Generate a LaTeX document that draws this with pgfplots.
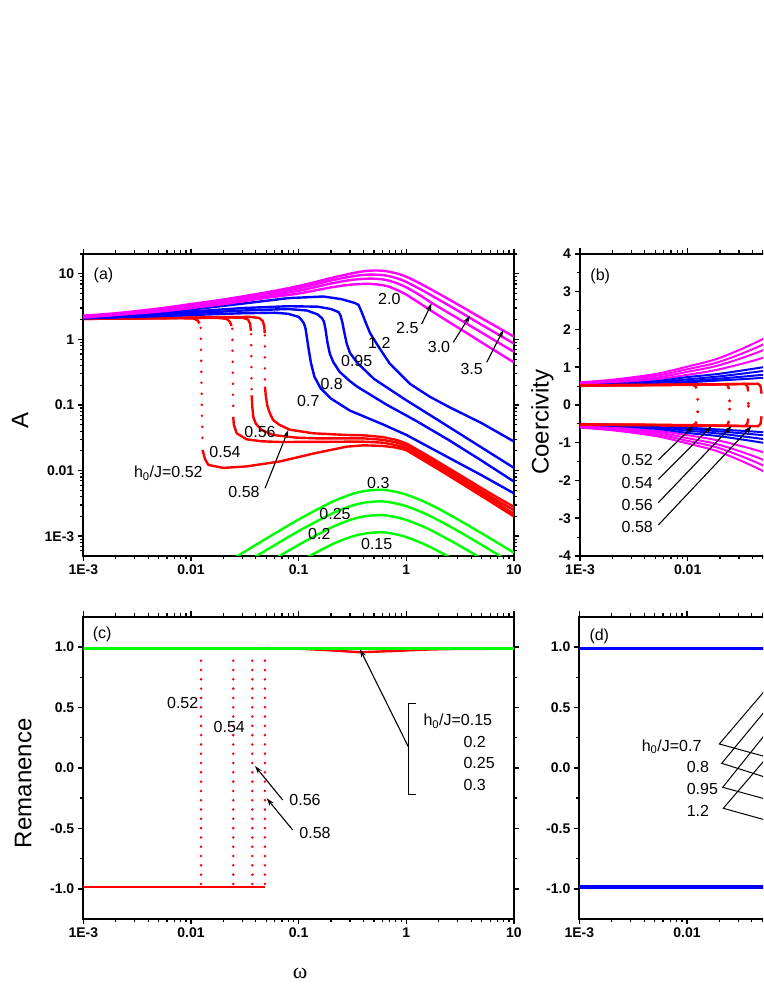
\documentclass[border=0pt]{standalone}
\usepackage{fontspec}
\setmainfont{Liberation Sans}
\newfontfamily\seriffont{Liberation Serif}
\usepackage{pgfplots}
\pgfplotsset{compat=1.18}
\usetikzlibrary{arrows.meta}
\definecolor{mymag}{rgb}{1,0,1}
\definecolor{myblue}{rgb}{0,0,1}
\definecolor{myred}{rgb}{1,0,0}
\definecolor{mygreen}{rgb}{0,1,0}
\newcommand{\ann}{\fontsize{16}{18}\selectfont}
\newcommand{\lab}{\fontsize{24}{26}\selectfont}
\pgfplotsset{
  mybasestyle/.style={
    scale only axis, width=430.7pt, height=302pt,
    xmin=1e-3, xmax=10,
    xtick={0.001,0.01,0.1,1,10}, xticklabels={1E-3,0.01,0.1,1,10},
    minor xtick={0.002,0.003,0.004,0.005,0.006,0.007,0.008,0.009,0.02,0.03,0.04,0.05,0.06,0.07,0.08,0.09,0.2,0.3,0.4,0.5,0.6,0.7,0.8,0.9,2,3,4,5,6,7,8,9},
    axis line style={line width=2pt},
    tick align=outside, major tick length=5.5pt, minor tick length=3.5pt,
    major tick style={line width=1.5pt,black},
    minor tick style={line width=1.2pt,black},
    tick label style={font=\fontsize{14}{16}\selectfont\bfseries},
    anchor=south west,
  },
}
\tikzset{
  mycur/.style={line width=2.4pt, line join=round},
  mydots/.style={myred, line width=2.8pt, line cap=round, dash pattern=on 0pt off #1},
}
\begin{document}
\begin{tikzpicture}
\useasboundingbox (0pt,0pt) rectangle (763pt,987pt);
\clip (0pt,0pt) rectangle (763pt,987pt);
% ---------------- (a)
\begin{axis}[xmode=log, ymode=log, mybasestyle, at={(83.3pt,431pt)}, ymin=5e-4, ymax=20,
  ytick={0.001,0.01,0.1,1,10}, yticklabels={1E-3,0.01,0.1,1,10},
  minor ytick={0.0006,0.0007,0.0008,0.0009,0.002,0.003,0.004,0.005,0.006,0.007,0.008,0.009,0.02,0.03,0.04,0.05,0.06,0.07,0.08,0.09,0.2,0.3,0.4,0.5,0.6,0.7,0.8,0.9,2,3,4,5,6,7,8,9,20}]
% green
\addplot[mygreen, mycur, smooth] coordinates {(0.01,0.000186)(0.02,0.00037)(0.03,0.000554)(0.05,0.00092)(0.1,0.0018)(0.2,0.00328)(0.3,0.00429)(0.4,0.00485)(0.55,0.0051)(0.7,0.00496)(1,0.00431)(1.5,0.0033)(2,0.00261)(3,0.00181)(5,0.00111)(7,0.000797)(10,0.00056)};
\addplot[mygreen, mycur, smooth] coordinates {(0.01,0.000124)(0.02,0.000247)(0.03,0.00037)(0.05,0.000613)(0.1,0.0012)(0.2,0.00218)(0.3,0.00286)(0.4,0.00323)(0.55,0.0034)(0.7,0.0033)(1,0.00287)(1.5,0.0022)(2,0.00174)(3,0.00121)(5,0.00074)(7,0.000531)(10,0.000373)};
\addplot[mygreen, mycur, smooth] coordinates {(0.02,0.000152)(0.03,0.000228)(0.05,0.000379)(0.1,0.000739)(0.2,0.00135)(0.3,0.00177)(0.4,0.002)(0.55,0.0021)(0.7,0.00204)(1,0.00177)(1.5,0.00136)(2,0.00107)(3,0.000745)(5,0.000457)(7,0.000328)(10,0.00023)};
\addplot[mygreen, mycur, smooth] coordinates {(0.05,0.000207)(0.1,0.000405)(0.2,0.000739)(0.3,0.000967)(0.4,0.00109)(0.55,0.00115)(0.7,0.00112)(1,0.000971)(1.5,0.000743)(2,0.000588)(3,0.000408)(5,0.00025)(7,0.00018)(10,0.000126)};
% red h=0.52
\addplot[myred, mycur] coordinates {(0.001,2.05)(0.003,2.08)(0.008,2.1)(0.0105,2.08)(0.0115,1.95)(0.012,1.75)};
\addplot[mydots=11pt] coordinates {(0.0123,1.5)(0.0128,0.022)};
\addplot[myred, mycur] coordinates {(0.0128,0.0207)(0.0135,0.015)(0.0145,0.0122)(0.02,0.011)(0.033,0.0116)(0.067,0.0138)(0.137,0.0182)(0.28,0.0232)(0.4,0.0243)(0.6,0.0238)(0.8,0.0225)(1,0.0205)(1.5,0.0138)(2,0.0104)(3,0.0069)(5,0.0041)(7,0.0029)(10,0.002)};
% red h=0.54
\addplot[myred, mycur] coordinates {(0.001,2.05)(0.003,2.09)(0.01,2.12)(0.018,2.12)(0.0215,2.05)(0.023,1.85)(0.0238,1.6)};
\addplot[mydots=11pt] coordinates {(0.0242,1.45)(0.0247,0.07)};
\addplot[myred, mycur] coordinates {(0.0247,0.066)(0.025,0.05)(0.0266,0.037)(0.0329,0.030)(0.045,0.028)(0.067,0.0273)(0.137,0.0274)(0.28,0.0276)(0.4,0.0276)(0.6,0.0267)(0.8,0.0245)(1,0.022)(1.5,0.015)(2,0.0113)(3,0.0075)(5,0.0045)(7,0.0032)(10,0.0022)};
% red h=0.56
\addplot[myred, mycur] coordinates {(0.001,2.06)(0.003,2.1)(0.01,2.14)(0.02,2.16)(0.03,2.14)(0.034,2.0)(0.0355,1.7)(0.036,1.35)};
\addplot[mydots=11pt] coordinates {(0.0362,1.2)(0.0366,0.15)};
\addplot[myred, mycur] coordinates {(0.0366,0.14)(0.0372,0.09)(0.038,0.065)(0.04,0.052)(0.045,0.042)(0.058,0.0349)(0.095,0.0318)(0.15,0.031)(0.28,0.031)(0.4,0.031)(0.6,0.0295)(0.8,0.027)(1,0.024)(1.5,0.0163)(2,0.0123)(3,0.0082)(5,0.0049)(7,0.0035)(10,0.0025)};
% red h=0.58
\addplot[myred, mycur] coordinates {(0.001,2.07)(0.003,2.1)(0.01,2.15)(0.02,2.18)(0.035,2.2)(0.043,2.12)(0.0465,1.9)(0.048,1.55)(0.0484,1.25)};
\addplot[mydots=11pt] coordinates {(0.0485,1.15)(0.0487,0.2)};
\addplot[myred, mycur] coordinates {(0.0487,0.19)(0.0495,0.14)(0.051,0.1)(0.054,0.075)(0.058,0.059)(0.066,0.05)(0.083,0.042)(0.137,0.037)(0.28,0.0349)(0.4,0.0345)(0.6,0.0325)(0.8,0.0295)(1,0.026)(1.5,0.0178)(2,0.0134)(3,0.009)(5,0.0054)(7,0.0039)(10,0.0028)};
% blue
\addplot[myblue, mycur] coordinates {(0.001,2.1)(0.003,2.2)(0.01,2.35)(0.03,2.5)(0.06,2.55)(0.08,2.45)(0.1,2.2)(0.107,1.95)(0.112,1.75)(0.116,1.45)(0.12,1.0)(0.124,0.7)(0.13,0.44)(0.14,0.27)(0.16,0.18)(0.2,0.125)(0.3,0.082)(0.6,0.051)(1,0.035)(2,0.019)(5,0.0085)(10,0.0045)};
\addplot[myblue, mycur] coordinates {(0.001,2.1)(0.003,2.25)(0.01,2.5)(0.03,2.75)(0.08,2.9)(0.12,2.75)(0.15,2.4)(0.165,2.1)(0.172,1.85)(0.178,1.4)(0.185,0.9)(0.195,0.6)(0.21,0.45)(0.24,0.32)(0.3,0.23)(0.35,0.19)(0.65,0.102)(1.24,0.057)(2.5,0.029)(5,0.0142)(10,0.0068)};
\addplot[myblue, mycur] coordinates {(0.001,2.1)(0.003,2.3)(0.01,2.65)(0.03,3.0)(0.08,3.2)(0.15,3.15)(0.2,2.9)(0.235,2.6)(0.245,2.3)(0.255,1.8)(0.265,1.3)(0.28,0.85)(0.3,0.62)(0.35,0.44)(0.5,0.25)(1.0,0.118)(2.0,0.058)(5,0.0225)(10,0.011)};
\addplot[myblue, mycur] coordinates {(0.001,2.15)(0.003,2.4)(0.01,2.85)(0.03,3.5)(0.08,4.25)(0.17,4.5)(0.25,4.1)(0.33,3.6)(0.36,3.35)(0.385,2.6)(0.42,1.8)(0.46,1.25)(0.55,0.78)(0.7,0.43)(1.08,0.21)(1.66,0.133)(2.5,0.093)(5,0.053)(10,0.0277)};
% magenta
\addplot[mymag, mycur, smooth] coordinates {(0.001,2.15)(0.002,2.35)(0.005,2.65)(0.01,3.0)(0.02,3.45)(0.05,4.3)(0.1,5.0)(0.2,6.2)(0.3,6.8)(0.4,7.0)(0.5,6.95)(0.6,6.7)(0.7,6.3)(0.85,5.5)(1.0,4.8)(1.3,3.65)(1.72,2.7)(2.5,1.83)(3.5,1.3)(5,0.9)(7.9,0.565)(10,0.445)};
\addplot[mymag, mycur, smooth] coordinates {(0.001,2.2)(0.002,2.4)(0.005,2.75)(0.01,3.15)(0.02,3.65)(0.05,4.6)(0.1,5.5)(0.2,7.1)(0.3,8.0)(0.4,8.35)(0.5,8.4)(0.6,8.2)(0.7,7.8)(0.85,7.0)(1.0,6.2)(1.3,4.85)(1.72,3.6)(2.5,2.5)(3.5,1.8)(5,1.27)(7.9,0.81)(10,0.645)};
\addplot[mymag, mycur, smooth] coordinates {(0.001,2.25)(0.002,2.45)(0.005,2.85)(0.01,3.3)(0.02,3.85)(0.05,4.9)(0.1,6.0)(0.2,7.9)(0.3,9.0)(0.4,9.6)(0.5,9.7)(0.6,9.55)(0.7,9.15)(0.85,8.35)(1.0,7.5)(1.3,6.0)(1.72,4.65)(2.5,3.27)(3.5,2.36)(5,1.67)(7.9,1.08)(10,0.86)};
\addplot[mymag, mycur, smooth] coordinates {(0.001,2.3)(0.002,2.5)(0.005,2.95)(0.01,3.45)(0.02,4.05)(0.05,5.2)(0.1,6.5)(0.2,8.6)(0.3,10.0)(0.4,10.9)(0.5,11.2)(0.6,11.1)(0.7,10.7)(0.85,9.9)(1.0,9.0)(1.3,7.3)(1.72,5.7)(2.5,4.05)(3.5,2.95)(5,2.1)(7.9,1.37)(10,1.1)};
\node[anchor=west, font=\ann] at (axis description cs:0.016,0.93) {(a)};
\end{axis}
% ---------------- (b)
\begin{axis}[xmode=log, mybasestyle, xticklabels={1E-3,0.01,{},{},{}}, at={(580pt,431pt)}, ymin=-4, ymax=4,
  ytick={-4,-3,-2,-1,0,1,2,3,4}, yticklabels={-4,-3,-2,-1,0,1,2,3,4}, minor y tick num=1]
\addplot[mymag, line width=2pt, smooth] coordinates {(0.001,0.55)(0.002,0.59)(0.005,0.68)(0.01,0.8)(0.02,0.95)(0.05,1.25)(0.1,1.6)};
\addplot[mymag, line width=2pt, smooth] coordinates {(0.001,0.56)(0.002,0.61)(0.005,0.72)(0.01,0.88)(0.02,1.06)(0.05,1.45)(0.1,1.9)};
\addplot[mymag, line width=2pt, smooth] coordinates {(0.001,0.58)(0.002,0.64)(0.005,0.77)(0.01,0.95)(0.02,1.15)(0.05,1.6)(0.1,2.1)};
\addplot[mymag, line width=2pt, smooth] coordinates {(0.001,0.6)(0.002,0.67)(0.005,0.82)(0.01,1.02)(0.02,1.25)(0.05,1.75)(0.1,2.3)};
\addplot[mymag, line width=2pt, smooth] coordinates {(0.001,-0.55)(0.002,-0.59)(0.005,-0.68)(0.01,-0.8)(0.02,-0.95)(0.05,-1.25)(0.1,-1.6)};
\addplot[mymag, line width=2pt, smooth] coordinates {(0.001,-0.56)(0.002,-0.61)(0.005,-0.72)(0.01,-0.88)(0.02,-1.06)(0.05,-1.45)(0.1,-1.9)};
\addplot[mymag, line width=2pt, smooth] coordinates {(0.001,-0.58)(0.002,-0.64)(0.005,-0.77)(0.01,-0.95)(0.02,-1.15)(0.05,-1.6)(0.1,-2.1)};
\addplot[mymag, line width=2pt, smooth] coordinates {(0.001,-0.6)(0.002,-0.67)(0.005,-0.82)(0.01,-1.02)(0.02,-1.25)(0.05,-1.75)(0.1,-2.3)};
\addplot[myblue, line width=2pt, smooth] coordinates {(0.001,0.5)(0.002,0.52)(0.005,0.55)(0.01,0.6)(0.02,0.65)(0.05,0.72)(0.1,0.8)};
\addplot[myblue, line width=2pt, smooth] coordinates {(0.001,0.51)(0.002,0.53)(0.005,0.57)(0.01,0.63)(0.02,0.7)(0.05,0.8)(0.1,0.9)};
\addplot[myblue, line width=2pt, smooth] coordinates {(0.001,0.52)(0.002,0.54)(0.005,0.6)(0.01,0.68)(0.02,0.76)(0.05,0.9)(0.1,1.02)};
\addplot[myblue, line width=2pt, smooth] coordinates {(0.001,0.52)(0.002,0.55)(0.005,0.63)(0.01,0.74)(0.02,0.83)(0.05,1.0)(0.1,1.15)};
\addplot[myblue, line width=2pt, smooth] coordinates {(0.001,-0.5)(0.002,-0.52)(0.005,-0.55)(0.01,-0.6)(0.02,-0.65)(0.05,-0.72)(0.1,-0.8)};
\addplot[myblue, line width=2pt, smooth] coordinates {(0.001,-0.51)(0.002,-0.53)(0.005,-0.57)(0.01,-0.63)(0.02,-0.7)(0.05,-0.8)(0.1,-0.9)};
\addplot[myblue, line width=2pt, smooth] coordinates {(0.001,-0.52)(0.002,-0.54)(0.005,-0.6)(0.01,-0.68)(0.02,-0.76)(0.05,-0.9)(0.1,-1.02)};
\addplot[myblue, line width=2pt, smooth] coordinates {(0.001,-0.52)(0.002,-0.55)(0.005,-0.63)(0.01,-0.74)(0.02,-0.83)(0.05,-1.0)(0.1,-1.15)};
\addplot[myred, mycur] coordinates {(0.001,0.52)(0.003,0.525)(0.006,0.53)(0.009,0.535)(0.0112,0.53)(0.0118,0.5)(0.0121,0.44)};
\addplot[myred, mycur] coordinates {(0.001,-0.52)(0.003,-0.525)(0.006,-0.53)(0.009,-0.535)(0.0112,-0.53)(0.0118,-0.5)(0.0121,-0.44)};
\addplot[myred, mycur] coordinates {(0.001,0.52)(0.005,0.53)(0.01,0.54)(0.018,0.545)(0.022,0.55)(0.0235,0.52)(0.0242,0.42)};
\addplot[myred, mycur] coordinates {(0.001,-0.52)(0.005,-0.53)(0.01,-0.54)(0.018,-0.545)(0.022,-0.55)(0.0235,-0.52)(0.0242,-0.42)};
\addplot[myred, mycur] coordinates {(0.001,0.52)(0.005,0.53)(0.01,0.54)(0.03,0.555)(0.034,0.56)(0.0358,0.5)(0.0365,0.36)};
\addplot[myred, mycur] coordinates {(0.001,-0.52)(0.005,-0.53)(0.01,-0.54)(0.03,-0.555)(0.034,-0.56)(0.0358,-0.5)(0.0365,-0.36)};
\addplot[myred, mycur] coordinates {(0.001,0.52)(0.005,0.53)(0.01,0.54)(0.04,0.56)(0.045,0.565)(0.0475,0.5)(0.0485,0.3)};
\addplot[myred, mycur] coordinates {(0.001,-0.52)(0.005,-0.53)(0.01,-0.54)(0.04,-0.56)(0.045,-0.565)(0.0475,-0.5)(0.0485,-0.3)};
\addplot[myred, only marks, mark=*, mark size=1.3pt] coordinates {(0.0124,0.15)(0.0124,-0.18)(0.0245,0.11)(0.0245,-0.11)(0.0366,0.04)(0.0366,-0.03)};
\node[anchor=west, font=\ann] at (axis description cs:0.016,0.925) {(b)};
\end{axis}
% ---------------- (c)
\begin{axis}[xmode=log, mybasestyle, at={(83.3pt,68pt)}, height=302.3pt, ymin=-1.25, ymax=1.25,
  ytick={-1,-0.5,0,0.5,1}, yticklabels={-1.0,-0.5,0.0,0.5,1.0}, minor y tick num=1]
\addplot[myred, mycur] coordinates {(0.001,-0.985)(0.0486,-0.985)};
\addplot[myred, mycur] coordinates {(0.05,0.99)(0.1,0.985)(0.2,0.972)(0.37,0.956)(0.7,0.965)(1.5,0.978)(3,0.984)(10,0.985)};
\addplot[mydots=9.3pt] coordinates {(0.0124,-0.96)(0.0124,0.96)};
\addplot[mydots=9.3pt] coordinates {(0.0247,-0.96)(0.0247,0.96)};
\addplot[mydots=9.3pt] coordinates {(0.0371,-0.96)(0.0371,0.96)};
\addplot[mydots=9.3pt] coordinates {(0.0486,-0.96)(0.0486,0.96)};
\addplot[mygreen, line width=3.4pt] coordinates {(0.001,0.987)(10,0.987)};
\node[anchor=west, font=\ann] at (axis description cs:0.014,0.94) {(c)};
\end{axis}
% ---------------- (d)
\begin{axis}[xmode=log, mybasestyle, xticklabels={1E-3,0.01,{},{},{}}, at={(579.3pt,68pt)}, height=302.3pt, ymin=-1.25, ymax=1.25,
  ytick={-1,-0.5,0,0.5,1}, yticklabels={-1.0,-0.5,0.0,0.5,1.0}, minor y tick num=1]
\addplot[mymag, line width=2pt] coordinates {(0.001,0.985)(10,0.985)};
\addplot[mymag, line width=2pt] coordinates {(0.001,-0.985)(10,-0.985)};
\addplot[myblue, line width=3.4pt] coordinates {(0.001,0.987)(10,0.987)};
\addplot[myblue, line width=3.4pt] coordinates {(0.001,-0.987)(10,-0.987)};
\node[anchor=west, font=\ann] at (axis description cs:0.0155,0.936) {(d)};
\end{axis}
% ---------------- axis labels
\node[rotate=90, font=\lab] at (20pt,566.3pt) {A};
\node[rotate=90, font=\lab] at (542.3pt,564.7pt) {Coercivity};
\node[rotate=90, font=\lab] at (23.3pt,203.7pt) {Remanence};
\node[font=\seriffont\fontsize{22}{24}\selectfont] at (300pt,14pt) {ω};
% ---------------- annotations
\begin{scope}[font=\ann]
\node at (389.3pt,688pt) {2.0};
\node at (407.3pt,659pt) {2.5};
\node at (439pt,640.3pt) {3.0};
\node at (471.7pt,618pt) {3.5};
\node at (379.3pt,643.7pt) {1.2};
\node at (356.7pt,626.3pt) {0.95};
\node at (331.7pt,603pt) {0.8};
\node at (308.3pt,585.7pt) {0.7};
\node at (260pt,555.3pt) {0.56};
\node at (225pt,535.3pt) {0.54};
\node at (168.3pt,513.7pt) {h\textsubscript{0}/J=0.52};
\node at (244pt,495.3pt) {0.58};
\node at (378.3pt,503.7pt) {0.3};
\node at (335pt,473pt) {0.25};
\node at (319.3pt,453pt) {0.2};
\node at (376.7pt,443pt) {0.15};
\node at (637.3pt,527pt) {0.52};
\node at (637.3pt,503.7pt) {0.54};
\node at (637.3pt,482pt) {0.56};
\node at (637.3pt,460.3pt) {0.58};
\node at (182.7pt,283.7pt) {0.52};
\node at (229.3pt,260.3pt) {0.54};
\node at (305pt,187pt) {0.56};
\node at (315pt,153.7pt) {0.58};
\node[anchor=west] at (420pt,266pt) {h\textsubscript{0}/J=0.15};
\node[anchor=west] at (460pt,245.3pt) {0.2};
\node[anchor=west] at (460pt,223.7pt) {0.25};
\node[anchor=west] at (460pt,202pt) {0.3};
\node[anchor=east] at (705pt,240.3pt) {h\textsubscript{0}/J=0.7};
\node[anchor=west] at (683.3pt,219.7pt) {0.8};
\node[anchor=west] at (683.3pt,197.7pt) {0.95};
\node[anchor=west] at (683.3pt,176.3pt) {1.2};
\end{scope}
\begin{scope}[line width=1.1pt, -{Stealth[length=8pt,width=5pt]}]
\draw (421.7pt,663pt) -- (431.7pt,683.7pt);
\draw (453.3pt,644.7pt) -- (470pt,671.3pt);
\draw (486.7pt,624.7pt) -- (503.3pt,657pt);
\draw (265pt,498.7pt) -- (288.3pt,557pt);
\draw (658.3pt,527pt) -- (693.3pt,561pt);
\draw (658.3pt,507.7pt) -- (711.7pt,561pt);
\draw (658.3pt,484.3pt) -- (731.7pt,561pt);
\draw (658.3pt,462pt) -- (751.7pt,561pt);
\draw (282.7pt,187pt) -- (255pt,221pt);
\draw (292.7pt,157pt) -- (266.7pt,188.7pt);
\draw (408.3pt,240.3pt) -- (360pt,337.7pt);
\end{scope}
\draw[line width=1pt] (416pt,283.7pt) -- (408.3pt,283.7pt) -- (408.3pt,192pt) -- (416pt,192pt);
\begin{scope}[line width=1pt]
\draw (775pt,308.3pt) -- (719.3pt,243pt) -- (775pt,227.7pt);
\draw (775pt,288pt) -- (721.7pt,223.7pt) -- (775pt,206.7pt);
\draw (775pt,264.8pt) -- (722.7pt,199.7pt) -- (775pt,185.3pt);
\draw (775pt,239pt) -- (723.3pt,178.7pt) -- (775pt,164.3pt);
\end{scope}
\end{tikzpicture}
\end{document}
